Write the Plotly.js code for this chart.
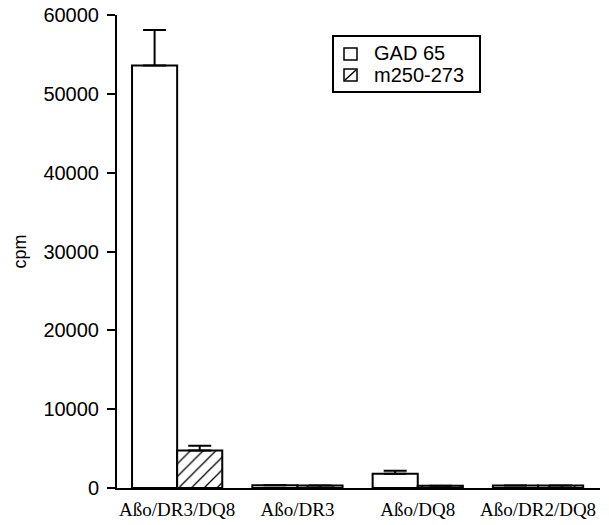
<!DOCTYPE html>
<html>
<head>
<meta charset="utf-8">
<script src="https://cdn.plot.ly/plotly-3.0.1.min.js"></script>
<style>html,body{margin:0;padding:0;background:#fff;}#chart{width:609px;height:525px;}</style>
</head>
<body>
<div id="chart"></div>
<script>
var categories = ["Aßo/DR3/DQ8", "Aßo/DR3", "Aßo/DQ8", "Aßo/DR2/DQ8"];
var seriesNames = ["GAD 65", "m250-273"];
var gad65 = [53600, 350, 1800, 330];
var gad65Err = [4500, 0, 380, 0];
var m250 = [4750, 330, 300, 330];
var m250Err = [600, 0, 0, 0];
var yTicks = [0, 10000, 20000, 30000, 40000, 50000, 60000];

var traces = [
  {
    type: "bar", name: seriesNames[0], x: categories, y: gad65,
    marker: {color: "#ffffff", line: {color: "#000", width: 2}},
    error_y: {type: "data", symmetric: false, array: gad65Err, arrayminus: [0,0,0,0], color: "#000", thickness: 2, width: 11.5}
  },
  {
    type: "bar", name: seriesNames[1], x: categories, y: m250,
    marker: {color: "#ffffff", line: {color: "#000", width: 2},
             pattern: {shape: "/", fgcolor: "#000", bgcolor: "#fff", size: 9, solidity: 0.14}},
    error_y: {type: "data", symmetric: false, array: m250Err, arrayminus: [0,0,0,0], color: "#000", thickness: 2, width: 11.5}
  }
];

// plot area in pixels: x 117..600, y 15..488
var L = 117, W = 483, T = 15, H = 473;
function px(x) { return (x - L) / W; }
function py(y) { return (T + H - y) / H; }

var shapes = [
  {type: "rect", xref: "paper", yref: "paper", x0: px(333), x1: px(480), y0: py(92), y1: py(36),
   line: {color: "#000", width: 2}, fillcolor: "#fff", layer: "above"},
  {type: "rect", xref: "paper", yref: "paper", x0: px(344), x1: px(357), y0: py(60), y1: py(48),
   line: {color: "#000", width: 1.5}, fillcolor: "#fff", layer: "above"},
  {type: "rect", xref: "paper", yref: "paper", x0: px(344), x1: px(357), y0: py(81), y1: py(69),
   line: {color: "#000", width: 1.5}, fillcolor: "#fff", layer: "above"},
  {type: "line", xref: "paper", yref: "paper", x0: px(345), x1: px(356), y0: py(80), y1: py(70),
   line: {color: "#000", width: 1.5}, layer: "above"}
];

var legendFont = {family: "Liberation Sans, Arial, sans-serif", size: 20, color: "#000"};
var annotations = [
  {xref: "paper", yref: "paper", x: px(372), y: py(53), xanchor: "left", yanchor: "middle",
   text: seriesNames[0], showarrow: false, font: legendFont},
  {xref: "paper", yref: "paper", x: px(372), y: py(75), xanchor: "left", yanchor: "middle",
   text: seriesNames[1], showarrow: false, font: legendFont}
];

var layout = {
  width: 609, height: 525,
  margin: {l: L, r: 609 - L - W, t: T, b: 525 - T - H},
  paper_bgcolor: "#fff", plot_bgcolor: "#fff",
  barmode: "group", bargap: 0.25, bargroupgap: 0,
  showlegend: false,
  shapes: shapes,
  annotations: annotations,
  xaxis: {
    type: "category", range: [-0.5, 3.515],
    showline: true, linecolor: "#000", linewidth: 2,
    ticks: "", showgrid: false, zeroline: false,
    ticklabelstandoff: 3,
    tickfont: {family: "Liberation Serif, Times New Roman, serif", size: 19, color: "#000"}
  },
  yaxis: {
    range: [0, 60000], tickvals: yTicks, ticktext: yTicks.map(String),
    showline: true, linecolor: "#000", linewidth: 2,
    ticks: "outside", ticklen: 8, tickwidth: 2, tickcolor: "#000",
    showgrid: false, zeroline: false,
    ticklabelstandoff: 4,
    tickfont: {family: "Liberation Sans, Arial, sans-serif", size: 20, color: "#000"},
    title: {text: "cpm", standoff: 12, font: {family: "Liberation Sans, Arial, sans-serif", size: 18, color: "#000"}}
  }
};

Plotly.newPlot("chart", traces, layout, {displayModeBar: false, staticPlot: true});
</script>
</body>
</html>
